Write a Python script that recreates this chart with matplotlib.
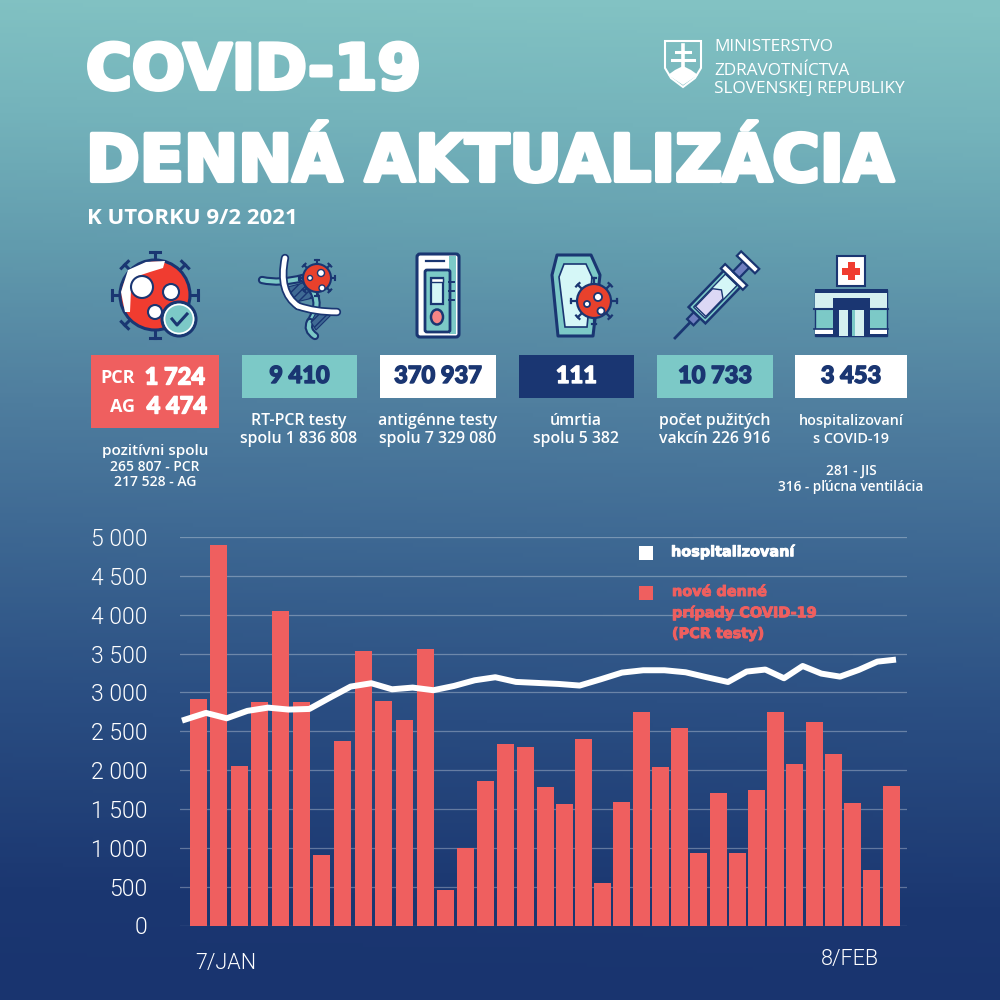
import numpy as np
import matplotlib
matplotlib.use("Agg")
import matplotlib.pyplot as plt
import matplotlib.patheffects as pe
from matplotlib.colors import LinearSegmentedColormap
from matplotlib.patches import Rectangle, Circle, Polygon, FancyBboxPatch, Ellipse, PathPatch
from matplotlib.path import Path

# ---------- data ----------
new_cases = [2912, 4897, 2054, 2873, 4052, 2873, 909, 2376, 3529, 2890, 2642, 3559,
             463, 995, 1861, 2341, 2298, 1788, 1565, 2401, 549, 1587, 2744, 2037,
             2547, 930, 1702, 935, 1745, 2744, 2084, 2624, 2204, 1574, 720, 1792]
hospitalized = [2637, 2736, 2667, 2762, 2804, 2779, 2787, 2933, 3075, 3118, 3040, 3062,
                3028, 3083, 3156, 3195, 3135, 3122, 3109, 3088, 3169, 3255, 3285, 3285,
                3259, 3195, 3134, 3268, 3294, 3182, 3340, 3242, 3203, 3289, 3396, 3422]
y_ticks = [0, 500, 1000, 1500, 2000, 2500, 3000, 3500, 4000, 4500, 5000]
y_tick_labels = ["0", "500", "1 000", "1 500", "2 000", "2 500", "3 000", "3 500", "4 000", "4 500", "5 000"]
date_labels = ["7/JAN", "8/FEB"]
box_values = ["9 410", "370 937", "111", "10 733", "3 453"]
pcr_today, ag_today = "1 724", "4 474"

NAVY, TEAL, RED, CORAL, WHITE = "#1a3672", "#7cc9c7", "#f03c30", "#ef5f5f", "#ffffff"
SMALL = "Open Sans"
HEAVY = "Lato"
WIDE = "DejaVu Sans"

fig = plt.figure(figsize=(10, 10), dpi=100)

# ---------- background ----------
bg = fig.add_axes([0, 0, 1, 1], zorder=0)
cmap = LinearSegmentedColormap.from_list("bg", [(0, "#82c2c3"), (0.12, "#74b3bb"), (0.25, "#629cae"),
                                                (0.40, "#507f9f"), (0.53, "#3f6a94"), (0.70, "#2b4f83"),
                                                (0.90, "#1b3771"), (1, "#19346f")])
yy, xx = np.mgrid[0:1:300j, 0:1:300j]
bg.imshow(yy - 0.02 * (xx - 0.5), cmap=cmap, vmin=0, vmax=1, aspect="auto", extent=[0, 1000, 1000, 0])
bg.set_xlim(0, 1000); bg.set_ylim(1000, 0); bg.axis("off")

# ---------- chart ----------
ax = fig.add_axes([0.180, 1 - 0.9255, 0.727, 0.9255 - 0.537], zorder=1)
ax.patch.set_alpha(0)
bar_x = np.interp(np.arange(len(new_cases)), [0, 11, 17, 35], [198, 425, 545, 891])
line_x = np.interp(np.arange(len(hospitalized)), [0, 1, 16, 26, 35], [182, 206, 516, 728, 896])
ax.set_xlim(180, 907)
ax.set_ylim(0, 5000)
ax.set_yticks(y_ticks, y_tick_labels)
ax.grid(axis="y", color="white", alpha=0.3, lw=0.9)
ax.set_axisbelow(True)
ax.bar(bar_x, new_cases, width=17, color=CORAL, zorder=2)
ax.plot(line_x, hospitalized, color="white", lw=4.3, zorder=3, solid_joinstyle="round", solid_capstyle="butt")
ax.set_xticks([])
ax.tick_params(axis="y", length=0, pad=23.5, labelsize=16.5, labelcolor="white")
for t in ax.get_yticklabels():
    t.set_family("Roboto")
    t.set_fontweight(300)
for s in ax.spines.values():
    s.set_visible(False)

# ---------- overlay in picture units ----------
ov = fig.add_axes([0, 0, 1, 1], zorder=2)
ov.set_xlim(0, 1000); ov.set_ylim(1000, 0); ov.axis("off"); ov.patch.set_alpha(0)


def txt(x, y, s, size, color=WHITE, weight=600, family=SMALL, ha="center", stroke=0, **kw):
    t = ov.text(x, y, s, fontsize=size, color=color, fontweight=weight, family=family,
                ha=ha, va="center", **kw)
    if stroke:
        t.set_path_effects([pe.withStroke(linewidth=stroke, foreground=color)])
    return t


def rect(x0, y0, x1, y1, fc, ec="none", lw=0, z=3):
    ov.add_patch(Rectangle((x0, y0), x1 - x0, y1 - y0, fc=fc, ec=ec, lw=lw, zorder=z))


def circ(x, y, r, fc, ec="none", lw=0, z=3):
    ov.add_patch(Circle((x, y), r, fc=fc, ec=ec, lw=lw, zorder=z))


def curve(pts, color, lw, z=3):
    codes = [Path.MOVETO] + [Path.CURVE3] * (len(pts) - 1)
    ov.add_patch(PathPatch(Path(pts, codes), fc="none", ec=color, lw=lw, capstyle="round", zorder=z))


def virus(x, y, r, n=8, spike=1.28, lw=1.8, fc=RED):
    for a in np.arange(n) * 2 * np.pi / n:
        c, s = np.cos(a), np.sin(a)
        ov.plot([x + r * c, x + r * spike * c], [y + r * s, y + r * spike * s], color=NAVY, lw=lw, zorder=3)
        tx, ty = x + r * spike * c, y + r * spike * s
        d = r * 0.14
        ov.plot([tx - d * s, tx + d * s], [ty + d * c, ty - d * c], color=NAVY, lw=lw, zorder=3)
    circ(x, y, r, fc, NAVY, lw, 4)


# titles
txt(86, 72, "COVID-19", 45, weight="bold", family=WIDE, ha="left", stroke=3)
txt(86, 163, "DENNÁ AKTUALIZÁCIA", 46.6, weight="bold", family=WIDE, ha="left", stroke=3)
txt(87, 219, "K UTORKU 9/2 2021", 16, weight=700, ha="left")

# ministry block
txt(714, 47, "MINISTERSTVO", 12.4, weight=400, ha="left")
txt(714, 71, "ZDRAVOTNÍCTVA", 12.4, weight=400, ha="left")
txt(714, 89, "SLOVENSKEJ REPUBLIKY", 12.4, weight=400, ha="left")
shield = [(665, 41), (701, 41), (701, 68), (695, 78), (683, 87), (671, 78), (665, 68)]
ov.add_patch(Polygon(shield, closed=True, fc="none", ec=WHITE, lw=1.5, zorder=3))
ov.add_patch(Polygon([(668, 75), (675, 70), (683, 66), (691, 70), (698, 75), (683, 85)], closed=True, fc=WHITE, zorder=3))
ov.plot([683, 683], [45, 68], color=WHITE, lw=2.6, zorder=3)
ov.plot([676, 690], [52, 52], color=WHITE, lw=2.2, zorder=3)
ov.plot([672, 694], [60, 60], color=WHITE, lw=2.2, zorder=3)

# value boxes
rect(91, 355, 219, 428, CORAL)
txt(118, 378, "PCR", 13, weight=700)
txt(175, 377, pcr_today, 17, weight=900, family=HEAVY, stroke=1)
txt(123, 407, "AG", 13, weight=700)
txt(177, 406, ag_today, 17, weight=900, family=HEAVY, stroke=1)
boxes = [(242, 357, TEAL, NAVY), (380, 496, WHITE, NAVY), (519, 634, NAVY, WHITE), (657, 773, TEAL, NAVY), (795, 907, WHITE, NAVY)]
for (x0, x1, fc, tc), val in zip(boxes, box_values):
    rect(x0, 355, x1, 397.5, fc)
    txt((x0 + x1) / 2, 375.5, val, 17, color=tc, weight=900, family=HEAVY, stroke=1)

# captions
for x, y, s, size in [(155, 451, "pozitívni spolu", 11), (155, 467, "265 807 - PCR", 10), (155, 482, "217 528 - AG", 10),
                      (299, 421, "RT-PCR testy", 11.4), (299, 439, "spolu 1 836 808", 11.4),
                      (438, 421, "antigénne testy", 11.4), (438, 439, "spolu 7 329 080", 11.4),
                      (576, 421, "úmrtia", 11.4), (576, 439, "spolu 5 382", 11.4),
                      (715, 421, "počet pužitých", 11.4), (715, 439, "vakcín 226 916", 11.4),
                      (851, 421, "hospitalizovaní", 10.4), (851, 439, "s COVID-19", 10.4),
                      (851, 471, "281 - JIS", 9.8), (851, 487, "316 - pľúcna ventilácia", 9.8)]:
    txt(x, y, s, size)

# x labels
txt(226, 964, date_labels[0], 15.5, weight=300, family="Roboto")
txt(850, 959, date_labels[1], 15.5, weight=300, family="Roboto")

# legend
rect(639, 546, 653, 560, WHITE)
rect(639, 586, 653, 600, CORAL)
txt(671, 552, "hospitalizovaní", 10.4, weight="bold", family=WIDE, ha="left", stroke=0.7)
txt(672, 592, "nové denné", 10.4, color=CORAL, weight="bold", family=WIDE, ha="left", stroke=0.7)
txt(672, 613, "prípady COVID-19", 10.4, color=CORAL, weight="bold", family=WIDE, ha="left", stroke=0.7)
txt(672, 634, "(PCR testy)", 10.4, color=CORAL, weight="bold", family=WIDE, ha="left", stroke=0.7)

# icon 1: virus with badge
virus(155, 295, 35, lw=2.2, spike=1.22)
ov.add_patch(Polygon([(125, 312), (121, 292), (128, 270), (146, 262), (165, 261), (163, 268), (150, 272),
                      (138, 276), (131, 290), (130, 312)], closed=True, fc=WHITE, zorder=5))
for x, y, r in [(142, 287, 11), (171, 292, 8), (155, 312, 7)]:
    circ(x, y, r, WHITE, NAVY, 1.5, 5)
circ(179, 319, 17, TEAL, NAVY, 2.2, 6)
ov.add_patch(Circle((179, 319), 14.5, fc="none", ec=WHITE, lw=1.2, zorder=6))
ov.plot([172, 177, 187], [319, 325, 314], color=NAVY, lw=2.2, zorder=7)

# icon 2: DNA
curve([(262, 280), (280, 284), (303, 278)], NAVY, 6)
curve([(262, 280), (280, 284), (303, 278)], TEAL, 3)
curve([(303, 278), (326, 300), (310, 322)], NAVY, 6)
curve([(303, 278), (326, 300), (310, 322)], TEAL, 3)
curve([(310, 322), (306, 330), (315, 336)], NAVY, 6)
curve([(310, 322), (306, 330), (315, 336)], TEAL, 3)
ov.add_patch(Polygon([(288, 287), (303, 283), (313, 298), (296, 302)], closed=True, fc="#3f6a94", ec=NAVY, lw=0.8, hatch="////", zorder=3))
ov.add_patch(Polygon([(316, 313), (333, 313), (316, 330), (311, 322)], closed=True, fc="#3f6a94", ec=NAVY, lw=0.8, hatch="////", zorder=3))
for col, w in [(NAVY, 6), (WHITE, 3.5)]:
    curve([(285, 258), (278, 292), (298, 306)], col, w, 4)
    curve([(298, 306), (315, 312), (337, 312)], col, w, 4)
virus(317, 278, 14, lw=1.5, spike=1.3, fc="#e8412c")
for x, y, r in [(321, 273, 3.5), (310, 278, 2.5), (322, 288, 3)]:
    circ(x, y, r, WHITE, NAVY, 1, 5)

# icon 3: test cassette
ov.add_patch(FancyBboxPatch((419, 256), 38, 79, boxstyle="round,pad=2,rounding_size=3", fc=WHITE, ec=NAVY, lw=2.2, zorder=3))
rect(449, 256, 456, 334, TEAL, z=4)
ov.plot([426, 444], [261, 261], color=NAVY, lw=1.6, zorder=5)
ov.add_patch(FancyBboxPatch((426, 271), 23, 60, boxstyle="round,pad=1,rounding_size=2", fc=TEAL, ec=NAVY, lw=2, zorder=5))
rect(431, 278, 443, 304, "#d5f7f7", NAVY, 1.6, 6)
rect(431, 278, 443, 282, WHITE, NAVY, 1, 6)
ov.add_patch(Ellipse((437, 317), 12, 15, fc="#f58585", ec=NAVY, lw=1.8, zorder=6))
for yy_ in (282, 291, 300):
    ov.plot([449, 454], [yy_, yy_], color=NAVY, lw=1.4, zorder=6)

# icon 4: coffin
ov.add_patch(Polygon([(557, 255), (591, 255), (600, 275), (593, 336), (558, 336), (552, 275)], closed=True, fc=TEAL, ec=NAVY, lw=2.2, joinstyle="round", zorder=3))
ov.add_patch(Polygon([(564, 264), (586, 264), (592, 277), (587, 327), (565, 327), (559, 277)], closed=True, fc="#d5f7f7", ec=NAVY, lw=1.2, zorder=3))
virus(594, 301, 17, lw=1.6, spike=1.35, fc="#e8412c")
for x, y, r in [(598, 297, 4), (587, 304, 3), (601, 311, 3.5)]:
    circ(x, y, r, WHITE, NAVY, 1.3, 5)

# icon 5: syringe
def syr(u, v):
    ang = np.deg2rad(-46)
    ox, oy = 675, 338
    u, v = u * 0.88, v * 0.9
    return (ox + u * np.cos(ang) - v * np.sin(ang), oy + u * np.sin(ang) + v * np.cos(ang))


def spoly(pts, **kw):
    kw.setdefault("zorder", 3)
    ov.add_patch(Polygon([syr(u, v) for u, v in pts], closed=True, **kw))


p0, p1 = syr(0, 0), syr(27, 0)
ov.plot([p0[0], p1[0]], [p0[1], p1[1]], color=NAVY, lw=2, zorder=3)
spoly([(25, -5), (36, -5), (36, 5), (25, 5)], fc="#6f7fc0", ec=NAVY, lw=1.6)
spoly([(36, -13), (95, -13), (95, 13), (36, 13)], fc=TEAL, ec=NAVY, lw=1.8)
spoly([(40, -9), (92, -9), (92, 9), (40, 9)], fc="#d5f7f7", ec=NAVY, lw=1)
spoly([(42, -8), (70, -8), (76, 0), (70, 8), (42, 8)], fc="#dcd8f5", ec=NAVY, lw=1)
spoly([(93, -17), (100, -17), (100, 17), (93, 17)], fc=WHITE, ec=NAVY, lw=1.6)
spoly([(100, -5), (118, -5), (118, 5), (100, 5)], fc="#6f7fc0", ec=NAVY, lw=1.6)
spoly([(116, -14), (123, -14), (123, 14), (116, 14)], fc=WHITE, ec=NAVY, lw=1.6)

# icon 6: hospital
rect(837, 256, 865, 286, WHITE, NAVY, 1.5)
rect(847.5, 262, 854.5, 280, RED)
rect(842, 267.5, 860, 274.5, RED)
rect(815, 290, 887, 336, TEAL, NAVY, 1)
rect(815, 289, 888, 293, NAVY)
rect(815, 293, 887, 308, "#d5f0f0", z=3)
rect(815, 329, 887, 334, WHITE)
rect(815, 334, 888, 336, NAVY)
ov.plot([814, 888], [309, 309], color=NAVY, lw=1.5, zorder=4)
ov.plot([814, 888], [329, 329], color=NAVY, lw=1.2, zorder=4)
rect(833, 298, 870, 336, NAVY, z=5)
rect(839, 310, 848, 336, "#d5f0f0", z=6)
rect(852, 310, 864, 336, TEAL, z=6)
rect(855, 310, 864, 336, "#d5f0f0", z=6)

fig.savefig("out.png", dpi=100)
